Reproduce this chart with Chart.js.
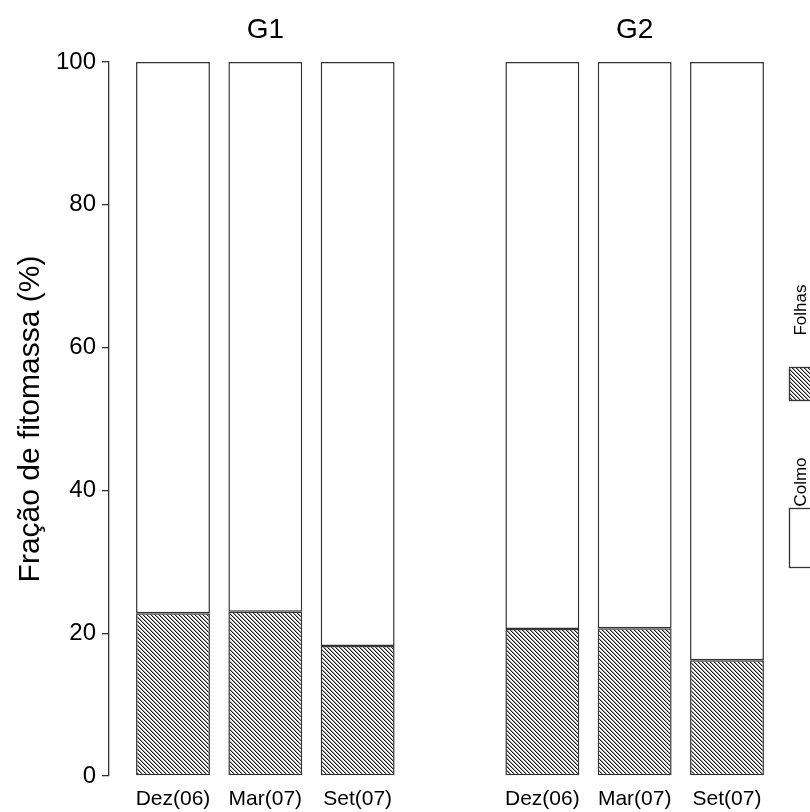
<!DOCTYPE html>
<html>
<head>
<meta charset="utf-8">
<script src="https://cdn.jsdelivr.net/npm/chart.js@4/dist/chart.umd.min.js"></script>
<style>
  html, body { margin: 0; padding: 0; background: #fff; }
  #wrap { width: 810px; height: 812px; position: relative; }
</style>
</head>
<body>
<div id="wrap"><canvas id="c"></canvas></div>
<script>
// Biomass fraction (%) by month, for the two groups
const monthLabels = ['Dez(06)', 'Mar(07)', 'Set(07)'];
const groupNames = ['G1', 'G2'];
const seriesNames = ['Folhas', 'Colmo'];
const folhasG1 = [22.8, 23.0, 18.2];
const colmoG1 = [77.2, 77.0, 81.8];
const folhasG2 = [20.6, 20.7, 16.2];
const colmoG2 = [79.4, 79.3, 83.8];
const yTicks = [0, 20, 40, 60, 80, 100];

const FONT = '"Liberation Sans", Arial, sans-serif';
const INK = '#333';

// Each group takes three slots on the x axis, with one empty slot between groups
const perGroup = monthLabels.length + 1;
const slot = (g, i) => g * perGroup + i + 1;
const points = (arrs) => arrs.flatMap((arr, g) => arr.map((v, i) => ({ x: slot(g, i), y: v })));
const labelFor = (v) => {
  const k = Math.round(v) - 1;
  return monthLabels[k % perGroup] || '';
};

// Fine diagonal hatching for the leaf fraction
function hatchPattern() {
  const c = document.createElement('canvas');
  c.width = 4; c.height = 4;
  const g = c.getContext('2d');
  g.fillStyle = '#fff';
  g.fillRect(0, 0, 4, 4);
  for (let i = 0; i < 4; i++) {
    g.fillStyle = '#1e1e1e';
    g.fillRect(i, i, 1, 1);
    g.fillStyle = '#9c9c9c';
    g.fillRect((i + 1) % 4, i, 1, 1);
  }
  return g.createPattern(c, 'repeat');
}
const hatch = hatchPattern();

// Group names above each panel
const panelTitles = {
  id: 'panelTitles',
  afterDraw(chart) {
    const { ctx } = chart;
    const x = chart.scales.x;
    ctx.save();
    ctx.font = '28px ' + FONT;
    ctx.fillStyle = '#000';
    ctx.textAlign = 'center';
    ctx.textBaseline = 'alphabetic';
    groupNames.forEach((name, g) => {
      ctx.fillText(name, x.getPixelForValue(slot(g, 1)), 38);
    });
    ctx.restore();
  }
};

// Vertical legend along the right edge, read bottom to top
const sideLegend = {
  id: 'sideLegend',
  afterDraw(chart) {
    const { ctx } = chart;
    const ds = chart.data.datasets;
    const items = [
      { ds: ds[1], box: [789, 508, 24, 60], textY: 482 },
      { ds: ds[0], box: [789, 367, 24, 34], textY: 310 }
    ];
    ctx.save();
    items.forEach(it => {
      const [bx, by, bw, bh] = it.box;
      ctx.fillStyle = it.ds.backgroundColor;
      ctx.fillRect(bx, by, bw, bh);
      ctx.strokeStyle = INK;
      ctx.lineWidth = 1.3;
      ctx.strokeRect(bx + 0.5, by + 0.5, bw, bh - 1);
      ctx.save();
      ctx.translate(806, it.textY);
      ctx.rotate(-Math.PI / 2);
      ctx.font = '17px ' + FONT;
      ctx.fillStyle = '#000';
      ctx.textAlign = 'center';
      ctx.textBaseline = 'alphabetic';
      ctx.fillText(it.ds.label, 0, 0);
      ctx.restore();
    });
    ctx.restore();
  }
};

new Chart(document.getElementById('c'), {
  type: 'bar',
  data: {
    datasets: [
      {
        label: seriesNames[0],
        data: points([folhasG1, folhasG2]),
        backgroundColor: hatch,
        borderColor: INK,
        borderWidth: 1.5,
        borderSkipped: false
      },
      {
        label: seriesNames[1],
        data: points([colmoG1, colmoG2]),
        backgroundColor: '#fff',
        borderColor: INK,
        borderWidth: 1.5,
        borderSkipped: false
      }
    ]
  },
  options: {
    responsive: true,
    maintainAspectRatio: false,
    animation: false,
    layout: { padding: { top: 62, right: 30, bottom: 0, left: 0 } },
    plugins: { legend: { display: false }, tooltip: { enabled: false } },
    datasets: { bar: { barPercentage: 0.8, categoryPercentage: 1 } },
    scales: {
      x: {
        type: 'linear',
        stacked: true,
        offset: false,
        min: 0.307,
        max: 7.574,
        grid: { display: false, drawTicks: false, offset: false },
        border: { display: false },
        afterBuildTicks(s) {
          s.ticks = groupNames.flatMap((_, g) => monthLabels.map((__, i) => ({ value: slot(g, i) })));
        },
        ticks: {
          callback: (v) => labelFor(v),
          font: { family: FONT, size: 21 },
          color: '#000',
          padding: 11,
          maxRotation: 0,
          autoSkip: false
        },
        afterFit(s) { s.height = 36; }
      },
      y: {
        stacked: true,
        min: 0,
        max: 100,
        afterBuildTicks(s) { s.ticks = yTicks.map(v => ({ value: v })); },
        grid: { drawOnChartArea: false, drawTicks: true, tickLength: 7, color: INK, lineWidth: 1.3 },
        border: { display: true, color: INK, width: 1.3 },
        ticks: { font: { family: FONT, size: 24 }, color: '#000', padding: 6 },
        title: {
          display: true,
          text: 'Fração de fitomassa (%)',
          font: { family: FONT, size: 30 },
          color: '#000',
          padding: { top: 13, bottom: 0 }
        },
        afterFit(s) { s.width = 109; }
      }
    }
  },
  plugins: [panelTitles, sideLegend]
});
</script>
</body>
</html>
